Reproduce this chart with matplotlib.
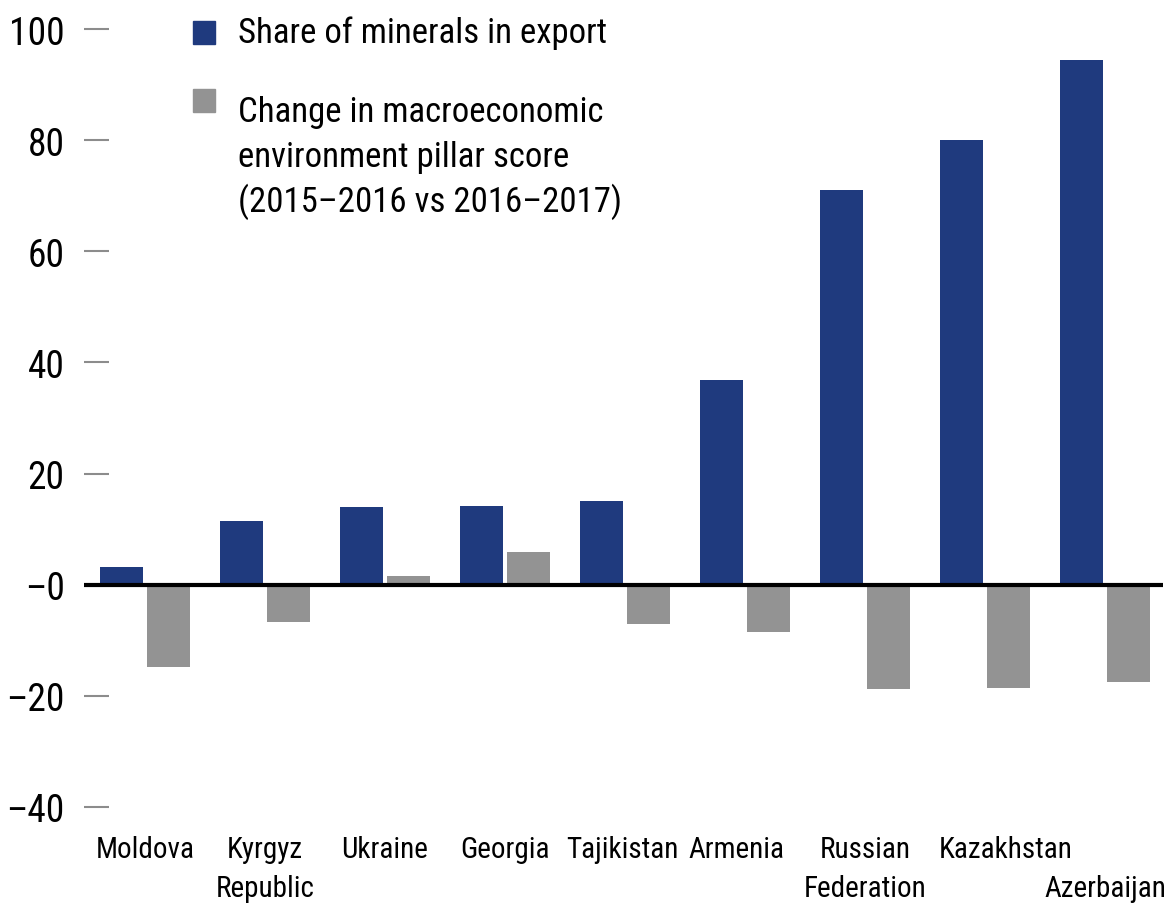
import matplotlib.pyplot as plt
import numpy as np
from matplotlib.patches import Rectangle

plt.rcParams['font.family'] = ['Roboto Condensed', 'DejaVu Sans']

# 数据
countries = ['Moldova', 'Kyrgyz\nRepublic', 'Ukraine', 'Georgia', 'Tajikistan',
             'Armenia', 'Russian\nFederation', 'Kazakhstan', '\nAzerbaijan']
minerals_share = [3.2, 11.4, 14.0, 14.2, 15.1, 36.8, 71.0, 80.0, 94.4]
pillar_change = [-14.8, -6.7, 1.6, 5.9, -7.0, -8.5, -18.7, -18.6, -17.5]
yticks = [-40, -20, 0, 20, 40, 60, 80, 100]
yticklabels = ['–40', '–20', '–0', '20', '40', '60', '80', '100']
legend_labels = ['Share of minerals in export',
                 'Change in macroeconomic\nenvironment pillar score\n(2015–2016 vs 2016–2017)']

blue = '#1f3a7e'
grey = '#939393'

fig = plt.figure(figsize=(11.68, 9.04), dpi=100)
ax = fig.add_axes([84/1168, 96/904, (1163-84)/1168, (808-30)/904])

x = np.arange(len(countries))
w = 0.358
ax.bar(x - 0.196, minerals_share, w, color=blue, zorder=2)
ax.bar(x + 0.196, pillar_change, w, color=grey, zorder=2)
ax.axhline(0, color='black', lw=3, zorder=3)

ax.set_xlim(-0.508, 8.483)
ax.set_ylim(-40, 100)
ax.set_yticks(yticks)
ax.set_yticklabels(yticklabels, fontsize=27)
ax.tick_params(axis='y', direction='in', length=18, width=1.5, color='#8c8c8c', pad=14)
ax.set_xticks([])
for s in ax.spines.values():
    s.set_visible(False)

# x轴标签，每行单独放置（基线位置）
offsets = [0, 0, 0, 0, -0.025, -0.07, 0, 0.175, 0]
line_y = [(808 - 858) / 778, (808 - 897) / 778]
tr = ax.get_xaxis_transform()
for i, name in enumerate(countries):
    for j, line in enumerate(name.split('\n')):
        if line:
            ax.text(i + offsets[i], line_y[j], line, ha='center', va='baseline',
                    fontsize=21, transform=tr)

# 图例
def fx(px):
    return px / 1168

def fy(py):
    return 1 - py / 904

fig.patches.append(Rectangle((fx(193), fy(45)), fx(22), 23/904, color=blue,
                             transform=fig.transFigure, figure=fig))
fig.patches.append(Rectangle((fx(193), fy(113)), fx(22), 23/904, color=grey,
                             transform=fig.transFigure, figure=fig))
fig.text(fx(238), fy(43), legend_labels[0], fontsize=25, va='baseline')
for k, line in enumerate(legend_labels[1].split('\n')):
    fig.text(fx(238), fy(122 + 45 * k), line, fontsize=25, va='baseline')

plt.savefig('out.png', dpi=100)
